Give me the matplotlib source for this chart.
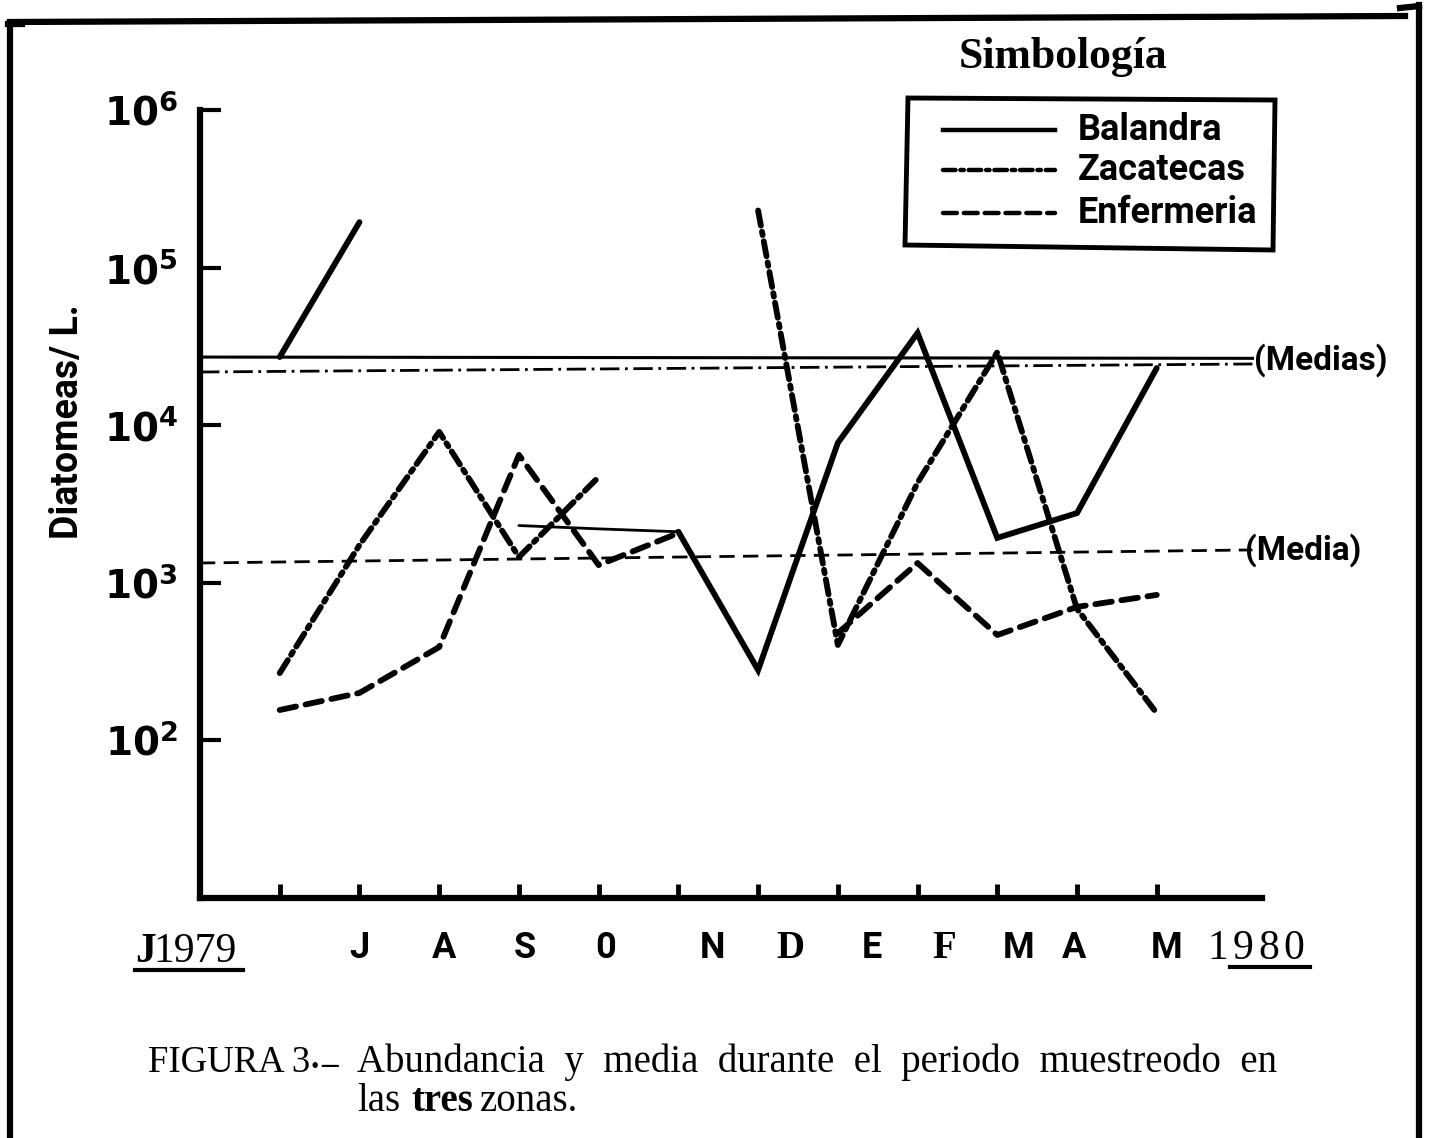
import numpy as np
import matplotlib
matplotlib.use('Agg')
import matplotlib.pyplot as plt
from matplotlib.lines import Line2D
from matplotlib.patches import Polygon

plt.rcParams['lines.scale_dashes'] = False
plt.rcParams['mathtext.fontset'] = 'dejavusans'

# ---------------- data ----------------
months = ['Jun 1979', 'Jul', 'Aug', 'Sep', 'Oct', 'Nov', 'Dec',
          'Ene 1980', 'Feb', 'Mar', 'Abr', 'May']
month_pos = np.arange(12)
balandra = [27000, 194000, np.nan, 2300, 2190, 2100, 278, 7700, 38400, 1920, 2760, 23000]
zacatecas = [266, 1730, 9040, 1450, 4680, np.nan, 230000, 401, 4300, 29000, 680, 148]
enfermeria = [155, 199, 389, 6460, 1290, 2060, np.nan, 477, 1330, 464, 700, 834]

mean_x = [-1.0, 12.2]
balandra_mean = [27000, 26500]
zacatecas_mean = [21700, 24400]
enfermeria_mean = [1330, 1610]

month_labels = ['J', 'A', 'S', '0', 'N', 'D', 'E', 'F', 'M', 'A', 'M']
month_label_x = [1.0, 2.06, 3.07, 4.09, 5.43, 6.4, 7.43, 8.34, 9.27, 9.96, 11.12]
month_label_serif = [False, False, False, False, False, True, False, True, False, False, False]

ytick_values = [1e2, 1e3, 1e4, 1e5, 1e6]
ytick_labels = [r'$\mathbf{10^{2}}$', r'$\mathbf{10^{3}}$', r'$\mathbf{10^{4}}$',
                r'$\mathbf{10^{5}}$', r'$\mathbf{10^{6}}$']

legend_names = ['Balandra', 'Zacatecas', 'Enfermeria']

caption_line1 = 'Abundancia y media durante el periodo muestreodo en'

# ---------------- figure ----------------
W, H = 1429, 1138
fig = plt.figure(figsize=(W / 100, H / 100), dpi=100)
def fx(px):
    return px / W
def fy(py):
    return 1 - py / H

ax = fig.add_axes([fx(200), fy(897.5), fx(1262) - fx(200), fy(110) - fy(897.5)])
ax.set_yscale('log')
ax.set_ylim(10, 1e6)
ax.set_xlim(-1.0, 12.32)

SANS = ['Roboto', 'DejaVu Sans']
SERIF = ['Liberation Serif', 'DejaVu Serif']

heavy = 4.2
dashdot = (11, 4.5, 2.5, 4.5)
dashed = (12, 7)

# Balandra (solid)
x = month_pos
ax.plot(x[0:2], balandra[0:2], color='k', lw=heavy, solid_capstyle='round')
ax.plot(x[3:6], balandra[3:6], color='k', lw=2.0, solid_capstyle='round')
ax.plot(x[5:], balandra[5:], color='k', lw=heavy, solid_capstyle='round', solid_joinstyle='miter')
# Zacatecas (dash-dot)
ax.plot(x, zacatecas, color='k', lw=heavy, dashes=dashdot, dash_capstyle='round')
# Enfermeria (dashed)
ax.plot(x, enfermeria, color='k', lw=heavy, dashes=dashed, dash_capstyle='round')

# means
ax.plot(mean_x, balandra_mean, color='k', lw=2.2)
ax.plot(mean_x, zacatecas_mean, color='k', lw=2.0, dashes=(14, 4, 2, 4))
ax.plot(mean_x, enfermeria_mean, color='k', lw=2.0, dashes=(11, 6))

# axes styling
for s in ['top', 'right']:
    ax.spines[s].set_visible(False)
ax.spines['left'].set_linewidth(4.5)
ax.spines['bottom'].set_linewidth(4.5)
ax.set_yticks(ytick_values)
ax.set_yticklabels(ytick_labels, fontsize=28)
ax.yaxis.set_minor_locator(matplotlib.ticker.NullLocator())
ax.tick_params(axis='y', direction='in', length=15, width=3, pad=16)
ax.set_xticks(month_pos)
ax.set_xticklabels([])
ax.tick_params(axis='x', direction='in', length=10, width=3.5)

# month labels
for lab, xp, serif in zip(month_labels, month_label_x, month_label_serif):
    ax.text(xp, -0.0768, lab, transform=ax.get_xaxis_transform(), ha='center', va='baseline',
            fontsize=28 if serif else 26, fontweight='bold', family=SERIF if serif else SANS)

# year labels
fig.text(fx(135), fy(962), 'J', fontsize=30, fontweight='bold', family=SERIF, va='baseline')
fig.text(fx(153), fy(962), '1979', fontsize=30, family=SERIF, va='baseline')
fig.add_artist(Line2D([fx(135), fx(243)], [fy(970), fy(970)], color='k', lw=3))
for ch, px in zip('1980', [1207, 1233, 1258, 1283]):
    fig.text(fx(px), fy(959), ch, fontsize=30, family=SERIF, va='baseline')
fig.add_artist(Line2D([fx(1230), fx(1310)], [fy(967), fy(967)], color='k', lw=3))

# y label
fig.text(fx(68), fy(422), 'Diatomeas/ L.', rotation=90, ha='center', va='center',
         fontsize=27, fontweight='bold', family=SANS)

# mean labels
fig.text(fx(1254), fy(360), '(Medias)', ha='left', va='center', fontsize=24,
         fontweight='bold', family=SANS)
fig.text(fx(1245), fy(550), '(Media)', ha='left', va='center', fontsize=24,
         fontweight='bold', family=SANS)

# legend
fig.text(fx(1063), fy(57), 'Simbología', ha='center', va='center', fontsize=31.5,
         fontweight='bold', family=SERIF)
fig.add_artist(Polygon([[fx(908), fy(98)], [fx(1275), fy(100)], [fx(1273), fy(250)], [fx(905), fy(245)]],
                       closed=True, fill=False, edgecolor='k', lw=3.5, transform=fig.transFigure))
leg_y = [130, 170, 213]
leg_styles = [dict(), dict(dashes=(9, 3.5, 2.5, 3.5), dash_capstyle='round'),
              dict(dashes=(10, 5), dash_capstyle='round')]
for name, yy, st in zip(legend_names, leg_y, leg_styles):
    fig.add_artist(Line2D([fx(943), fx(1055)], [fy(yy), fy(yy)], color='k', lw=3.2, **st))
    fig.text(fx(1078), fy(yy), name, ha='left', va='center', fontsize=26,
             fontweight='bold', family=SANS)

# caption
fig.text(fx(148), fy(1072), 'FIGURA 3', fontsize=26.5, family=SERIF, va='baseline')
fig.text(fx(311), fy(1068), '.', fontsize=24, fontweight='bold', family=SERIF, va='baseline')
fig.text(fx(321), fy(1074), '–', fontsize=24, fontweight='bold', family=SERIF, va='baseline')
fig.text(fx(357), fy(1072), caption_line1.replace(' ', '\u2002'), fontsize=28,
         family=SERIF, va='baseline')
fig.text(fx(357), fy(1111), 'las', fontsize=28, family=SERIF, va='baseline')
fig.text(fx(411), fy(1111), 'tres', fontsize=28, fontweight='bold', family=SERIF, va='baseline')
fig.text(fx(480), fy(1111), 'zonas.', fontsize=28, family=SERIF, va='baseline')

# outer frame of the scanned plate
frame_lw = 4.5
fig.add_artist(Line2D([fx(10), fx(10)], [fy(24), fy(1138)], color='k', lw=frame_lw))
fig.add_artist(Line2D([fx(8), fx(22)], [fy(24), fy(24)], color='k', lw=frame_lw))
fig.add_artist(Line2D([fx(10), fx(1405)], [fy(22), fy(16)], color='k', lw=frame_lw))
fig.add_artist(Line2D([fx(1419), fx(1419)], [fy(5), fy(1138)], color='k', lw=frame_lw))
fig.add_artist(Line2D([fx(1400), fx(1419)], [fy(8), fy(6)], color='k', lw=frame_lw))

fig.savefig('out.png', dpi=100)
